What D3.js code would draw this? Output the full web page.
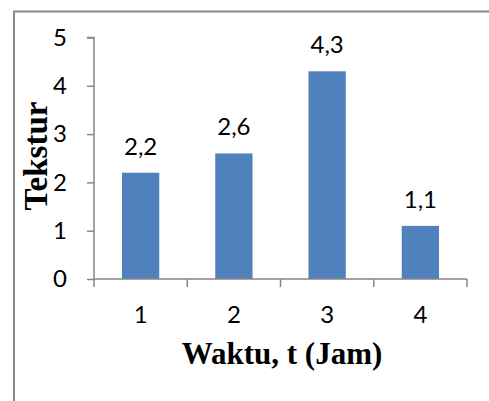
<!DOCTYPE html>
<html>
<head>
<meta charset="utf-8">
<script src="https://cdn.jsdelivr.net/npm/d3@7"></script>
<style>
  html, body { margin: 0; padding: 0; background: #fff; }
  svg { display: block; }
</style>
</head>
<body>
<svg id="chart" width="489" height="401"></svg>
<script>
// Texture score per time point
const categories = ["1", "2", "3", "4"];
const values = [2.2, 2.6, 4.3, 1.1];
const yTicks = [0, 1, 2, 3, 4, 5];
const labels = ["2,2", "2,6", "4,3", "1,1"];

const svg = d3.select("#chart");
const W = 489, H = 401;
const plot = { left: 94, right: 467, top: 37.5, bottom: 279 };

const axisColor = "#868686";
const barColor = "#4f81bd";
const numFont = "Lato, 'Open Sans', sans-serif";
const numSize = 24;
const titleFont = "'Liberation Serif', 'Times New Roman', serif";

// Outer frame (top and left edges)
svg.append("path")
  .attr("d", `M14,${H} L14,11.5 L${W},11.5`)
  .attr("fill", "none")
  .attr("stroke", "#8a8a8a")
  .attr("stroke-width", 2);

const x = d3.scaleBand()
  .domain(categories)
  .range([plot.left, plot.right])
  .paddingInner(0.6)
  .paddingOuter(0.3);

const y = d3.scaleLinear()
  .domain([0, 5])
  .range([plot.bottom, plot.top]);

// Bars
svg.append("g")
  .selectAll("rect")
  .data(values)
  .join("rect")
  .attr("x", (d, i) => x(categories[i]))
  .attr("y", d => y(d))
  .attr("width", x.bandwidth())
  .attr("height", d => y(0) - y(d))
  .attr("fill", barColor);

// Value labels
svg.append("g")
  .selectAll("text")
  .data(values)
  .join("text")
  .attr("x", (d, i) => x(categories[i]) + x.bandwidth() / 2)
  .attr("y", d => y(d) - 18)
  .attr("text-anchor", "middle")
  .attr("font-family", numFont)
  .attr("font-size", numSize)
  .attr("fill", "#000")
  .text((d, i) => labels[i]);

// Y axis
const yAxis = svg.append("g")
  .attr("transform", `translate(${plot.left},0)`)
  .call(d3.axisLeft(y).tickValues(yTicks).tickSize(7).tickPadding(20).tickFormat(d3.format("d")));
yAxis.select(".domain").attr("stroke", axisColor).attr("stroke-width", 1.5)
  .attr("d", `M-7,${plot.top}H0V${plot.bottom}`);
yAxis.selectAll(".tick line").attr("stroke", axisColor).attr("stroke-width", 1.5);
yAxis.selectAll(".tick text")
  .attr("font-family", numFont)
  .attr("font-size", numSize)
  .attr("fill", "#000");

// X axis: category labels centered, tick marks on category boundaries
const xAxis = svg.append("g")
  .attr("transform", `translate(0,${plot.bottom})`)
  .call(d3.axisBottom(x).tickSize(0).tickPadding(27));
xAxis.select(".domain").attr("stroke", axisColor).attr("stroke-width", 1.5)
  .attr("d", `M${plot.left},0H${plot.right}`);
xAxis.selectAll(".tick text")
  .attr("font-family", numFont)
  .attr("font-size", numSize)
  .attr("fill", "#000");

const step = x.step();
const bounds = d3.range(categories.length + 1).map(i => plot.left + i * step);
xAxis.selectAll("line.boundary")
  .data(bounds)
  .join("line")
  .attr("class", "boundary")
  .attr("x1", d => d).attr("x2", d => d)
  .attr("y1", 0).attr("y2", 8)
  .attr("stroke", axisColor)
  .attr("stroke-width", 1.5);

// Axis titles
svg.append("text")
  .attr("x", 282)
  .attr("y", 364)
  .attr("text-anchor", "middle")
  .attr("font-family", titleFont)
  .attr("font-weight", "bold")
  .attr("font-size", 31)
  .attr("fill", "#000")
  .text("Waktu, t (Jam)");

svg.append("text")
  .attr("transform", "translate(47,156) rotate(-90)")
  .attr("text-anchor", "middle")
  .attr("font-family", titleFont)
  .attr("font-weight", "bold")
  .attr("font-size", 33)
  .attr("fill", "#000")
  .text("Tekstur");
</script>
</body>
</html>
